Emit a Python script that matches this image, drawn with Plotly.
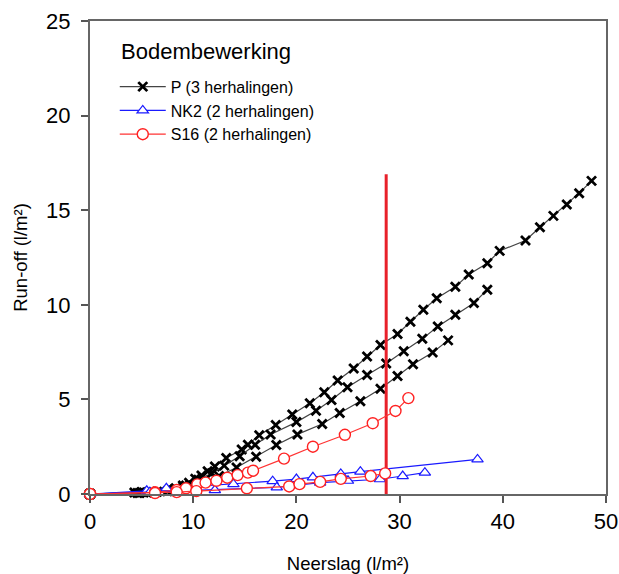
import plotly.graph_objects as go

# ---- data ----
p1_x = [0, 4.3, 5.0, 7.5, 8.3, 9.0, 9.6, 10.2, 10.8, 11.4, 12.1, 13.2, 14.7, 15.3, 16.4, 18.0, 19.6, 21.3, 22.7, 24.0,
        25.55, 26.85, 28.15, 29.8, 31.05, 32.3, 33.6, 35.4, 36.7, 38.5, 39.7, 42.2, 43.6, 44.9, 46.2, 47.4, 48.6]
p1_y = [0, 0.08, 0.1, 0.15, 0.3, 0.45, 0.6, 0.8, 0.98, 1.2, 1.45, 1.9, 2.35, 2.6, 3.1, 3.65, 4.2, 4.8, 5.38, 6.0,
        6.63, 7.27, 7.87, 8.46, 9.1, 9.74, 10.35, 10.95, 11.6, 12.2, 12.85, 13.4, 14.1, 14.7, 15.3, 15.9, 16.55]

p2_x = [0, 4.6, 5.2, 6.5, 8.2, 9.3, 10.5, 11.8, 13.0, 14.5, 16.0, 17.5, 20.0, 21.9, 23.4, 24.95, 26.85, 28.7,
        30.4, 32.2, 33.7, 35.4, 37.2, 38.5]
p2_y = [0, 0.05, 0.08, 0.12, 0.25, 0.45, 0.75, 1.1, 1.5, 2.0, 2.6, 3.15, 3.8, 4.4, 4.97, 5.64, 6.29, 6.9,
        7.55, 8.2, 8.85, 9.47, 10.1, 10.8]

p3_x = [0, 4.8, 5.5, 8.0, 9.5, 11.0, 12.5, 14.2, 16.1, 18.05, 20.1, 22.5, 24.2, 26.2, 28.15, 29.8, 31.3, 33.2, 34.7]
p3_y = [0, 0.05, 0.08, 0.18, 0.35, 0.6, 0.95, 1.4, 1.97, 2.59, 3.15, 3.7, 4.28, 4.9, 5.56, 6.24, 6.86, 7.48, 8.12]

nk2a_x = [0, 5.5, 7.4, 13.9, 17.7, 20.0, 21.6, 24.3, 26.2, 37.55]
nk2a_y = [0, 0.17, 0.3, 0.52, 0.68, 0.79, 0.88, 1.06, 1.18, 1.83]

nk2b_x = [0, 5.8, 12.1, 18.1, 22.3, 25.0, 28.1, 30.3, 32.45]
nk2b_y = [0, 0.1, 0.21, 0.35, 0.6, 0.7, 0.78, 0.95, 1.13]

s16a_x = [0, 6.3, 8.4, 9.3, 10.4, 11.2, 12.25, 13.3, 14.3, 15.3, 15.8, 18.8, 21.6, 24.7, 27.4, 29.6, 30.85]
s16a_y = [0, 0.09, 0.21, 0.3, 0.51, 0.6, 0.7, 0.86, 1.0, 1.13, 1.23, 1.87, 2.5, 3.13, 3.74, 4.39, 5.07]

s16b_x = [0, 6.3, 8.4, 10.3, 15.2, 19.3, 20.3, 22.3, 24.3, 27.2, 28.6]
s16b_y = [0, 0.05, 0.1, 0.15, 0.3, 0.4, 0.52, 0.64, 0.8, 0.95, 1.09]

vline_x = [28.7, 28.7]
vline_y = [0, 16.9]

x_ticks = [0, 10, 20, 30, 40, 50]
y_ticks = [0, 5, 10, 15, 20, 25]

series_names = ["P (3 herhalingen)", "NK2 (2 herhalingen)", "S16 (2 herhalingen)"]

FONT = "Liberation Sans, Arial, sans-serif"

fig = go.Figure()

def p_trace(x, y, show):
    return go.Scatter(x=x, y=y, mode="lines+markers", name=series_names[0], legendgroup="P",
                      showlegend=show, cliponaxis=False,
                      line=dict(color="#444444", width=1.2),
                      marker=dict(symbol="x-thin", size=9, color="black",
                                  line=dict(color="black", width=2.8)))

def nk_trace(x, y, show):
    return go.Scatter(x=x, y=y, mode="lines+markers", name=series_names[1], legendgroup="NK2",
                      showlegend=show, cliponaxis=False,
                      line=dict(color="#1a1aff", width=1.2),
                      marker=dict(symbol="triangle-up", size=10, color="white",
                                  line=dict(color="#1a1aff", width=1.2)))

def s_trace(x, y, show):
    return go.Scatter(x=x, y=y, mode="lines+markers", name=series_names[2], legendgroup="S16",
                      showlegend=show, cliponaxis=False,
                      line=dict(color="#ff3333", width=1.2),
                      marker=dict(symbol="circle", size=11, color="white",
                                  line=dict(color="#ff2222", width=1.4)))

fig.add_trace(p_trace(p1_x, p1_y, True))
fig.add_trace(p_trace(p2_x, p2_y, False))
fig.add_trace(p_trace(p3_x, p3_y, False))
fig.add_trace(nk_trace(nk2a_x, nk2a_y, True))
fig.add_trace(nk_trace(nk2b_x, nk2b_y, False))
fig.add_trace(go.Scatter(x=vline_x, y=vline_y, mode="lines", showlegend=False, hoverinfo="skip",
                         line=dict(color="#e8202a", width=3)))
fig.add_trace(s_trace(s16a_x, s16a_y, True))
fig.add_trace(s_trace(s16b_x, s16b_y, False))

fig.update_layout(
    width=619, height=574,
    margin=dict(l=90, r=13, t=21, b=80, autoexpand=False),
    paper_bgcolor="white", plot_bgcolor="white",
    font=dict(family=FONT, color="black"),
    showlegend=True,
    legend=dict(x=0.048, y=0.897, xanchor="left", yanchor="top",
                font=dict(size=16, family=FONT), tracegroupgap=0, itemwidth=46,
                bgcolor="rgba(0,0,0,0)"),
    annotations=[dict(text="Bodembewerking", xref="paper", yref="paper",
                      x=0.056, y=0.936, xanchor="left", yanchor="middle",
                      showarrow=False, font=dict(size=22, family=FONT))],
)

fig.update_xaxes(range=[0, 50], tickvals=x_ticks, ticktext=[str(v) for v in x_ticks],
                 showline=True, linecolor="#666666", linewidth=2, mirror=True,
                 ticks="outside", ticklen=7, tickwidth=1.5, tickcolor="#555555",
                 showgrid=False, zeroline=False, tickfont=dict(size=22),
                 ticklabelstandoff=0, automargin=False,
                 title=dict(text="Neerslag (l/m²)", font=dict(size=18.5), standoff=24))
fig.update_yaxes(range=[0, 25], tickvals=y_ticks, ticktext=[str(v) for v in y_ticks],
                 showline=True, linecolor="#666666", linewidth=2, mirror=True,
                 ticks="outside", ticklen=7, tickwidth=1.5, tickcolor="#555555",
                 showgrid=False, zeroline=False, tickfont=dict(size=22),
                 ticklabelstandoff=6, automargin=False,
                 title=dict(text="Run-off (l/m²)", font=dict(size=18.5), standoff=14))

fig.write_html("out.html", config={"displayModeBar": False},
               post_script="document.body.style.margin='0px';")
